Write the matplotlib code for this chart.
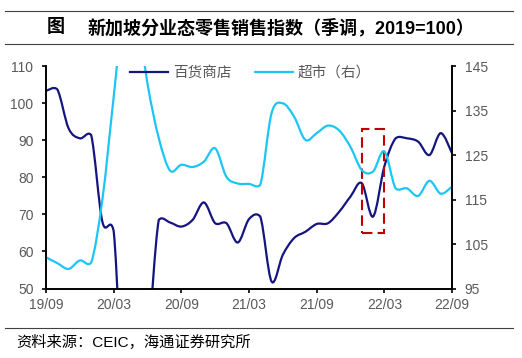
import numpy as np
import pandas as pd
import matplotlib
matplotlib.use('Agg')
import matplotlib.pyplot as plt
from matplotlib.path import Path
from matplotlib.patches import PathPatch, Rectangle
from matplotlib.lines import Line2D

plt.rcParams['font.family'] = ['Liberation Sans', 'Noto Sans CJK SC']

# 月度数据 2019/09 - 2022/09
months = pd.period_range('2019-09', '2022-09', freq='M')
tick_labels = [m.strftime('%y/%m') for m in months[::6]]

# 百货商店（左轴）
dept = [103.3, 103.7, 93.2, 90.5, 91.4, 68.0, 65.5, 12.0, 15.0, 34.0,
        68.5, 67.8, 66.7, 68.5, 73.2, 67.6, 67.6, 62.4, 68.7, 69.4,
        51.9, 59.1, 63.6, 65.3, 67.4, 67.6, 70.7, 74.8, 78.4, 69.4,
        82.9, 90.5, 90.5, 89.6, 86.0, 91.9, 86.5]
# 超市（右轴）
supermarket = [102.0, 100.7, 99.4, 101.3, 100.8, 115.0, 138.0, 160.0, 158.0, 141.0,
               128.8, 121.5, 122.8, 122.3, 123.5, 126.5, 120.1, 118.6, 118.5, 118.3,
               134.4, 136.6, 133.6, 128.4, 129.9, 131.6, 130.5, 126.8, 121.6, 121.3,
               125.8, 117.5, 117.5, 115.8, 119.2, 116.3, 117.9]

# 虚线框：22/01 - 22/03
box_start, box_end = '2022-01', '2022-03'
box_low, box_high = 65, 93

DARK = '#15157F'
LIGHT = '#1CC6F4'
GRAY = '#595959'


def smooth(x, y):
    # 平滑线（Catmull-Rom 转贝塞尔，限制控制点的过冲）
    pts = np.column_stack([x, y]).astype(float)
    n = len(pts)
    verts = [pts[0]]
    codes = [Path.MOVETO]
    for i in range(n - 1):
        p0, p1, p2, p3 = pts[max(i - 1, 0)], pts[i], pts[i + 1], pts[min(i + 2, n - 1)]
        c1 = p1 + (p2 - p0) / 6
        c2 = p2 - (p3 - p1) / 6
        lo, hi = min(p1[1], p2[1]), max(p1[1], p2[1])
        m = 0.5 * (hi - lo) + 0.8
        c1[1] = np.clip(c1[1], lo - m, hi + m)
        c2[1] = np.clip(c2[1], lo - m, hi + m)
        verts += [c1, c2, p2]
        codes += [Path.CURVE4] * 3
    return Path(verts, codes)


fig = plt.figure(figsize=(5.22, 3.58), dpi=100)
ax = fig.add_axes([46 / 522, 1 - 288.5 / 358, 406 / 522, 222.5 / 358])
ax2 = ax.twinx()

x = np.arange(len(months))
ax.add_patch(PathPatch(smooth(x, dept), fill=False, ec=DARK, lw=1.6))
ax2.add_patch(PathPatch(smooth(x, supermarket), fill=False, ec=LIGHT, lw=1.6))

bx0 = months.get_loc(pd.Period(box_start, 'M'))
bx1 = months.get_loc(pd.Period(box_end, 'M'))
ax.add_patch(Rectangle((bx0, box_low), bx1 - bx0, box_high - box_low, fill=False,
                       ec='#C00000', lw=1.5, ls=(0, (5, 2.5))))

ax.set_xlim(0, len(months) - 1)
ax.set_ylim(50, 110)
ax.set_yticks(range(50, 111, 10))
ax2.set_ylim(95, 145)
ax2.set_yticks(range(95, 146, 10))
ax.set_xticks(x[::6])
ax.set_xticklabels(tick_labels)

for a in (ax, ax2):
    a.spines['top'].set_visible(False)
    for s in a.spines.values():
        s.set_linewidth(1.2)
    a.tick_params(direction='out', length=3, width=1.2, labelsize=10, labelcolor=GRAY, pad=6)
ax.tick_params(axis='x', pad=4)

handles = [Line2D([], [], color=DARK, lw=1.6), Line2D([], [], color=LIGHT, lw=1.6)]
fig.legend(handles, ['百货商店', '超市（右）'], loc='upper left', ncol=2,
           bbox_to_anchor=(130 / 522, 1 - 66 / 358), bbox_transform=fig.transFigure,
           frameon=False, fontsize=10.5, labelcolor=GRAY, borderpad=0, borderaxespad=0,
           handlelength=2.6, handletextpad=0.35, columnspacing=1.6)

# 标题与分隔线
for yy in (11, 44, 328):
    fig.add_artist(Line2D([5 / 522, 513 / 522], [1 - yy / 358] * 2, color='#404040', lw=0.8))
fig.text(47 / 522, 1 - 28 / 358, '图', fontsize=13, fontweight='bold', va='center')
fig.text(88 / 522, 1 - 28 / 358, '新加坡分业态零售销售指数（季调，2019=100）',
         fontsize=13, fontweight='bold', va='center')
fig.text(16 / 522, 1 - 342 / 358, '资料来源：CEIC，海通证券研究所', fontsize=11, va='center')

fig.savefig('out.png', dpi=100)
